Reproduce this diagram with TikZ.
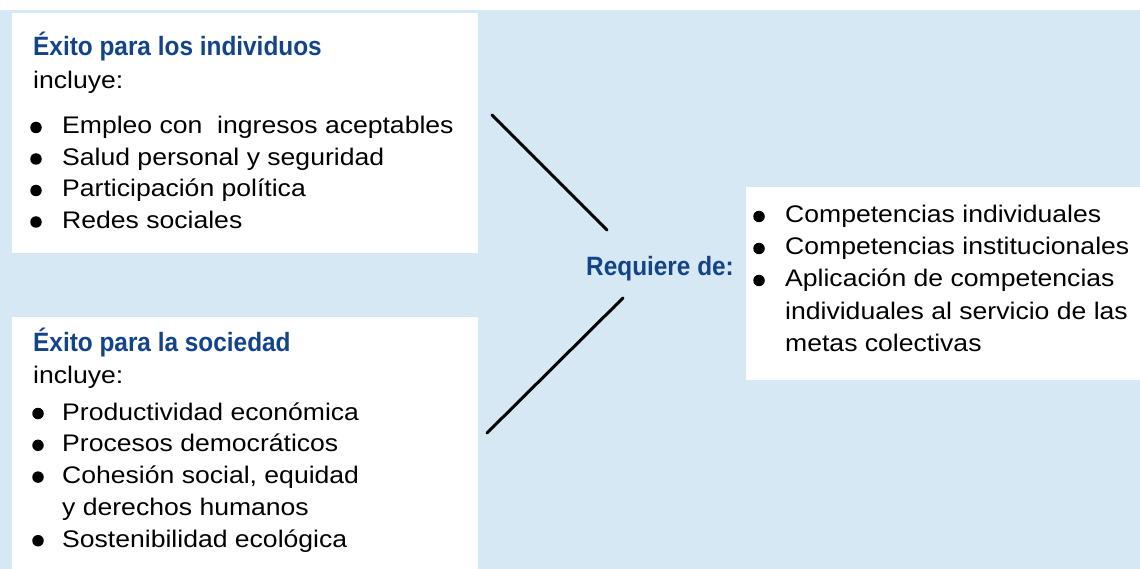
\documentclass[tikz,border=0pt]{standalone}
\usepackage{fontspec}
\setmainfont[FakeStretch=1.107]{Liberation Sans}
\newfontfamily\headfont[FakeStretch=0.92]{Liberation Sans}
\usetikzlibrary{positioning}
\definecolor{bgblue}{RGB}{213,232,243}
\definecolor{headblue}{RGB}{20,68,136}

\begin{document}
\begin{tikzpicture}[x=1pt, y=-1pt,
    % Styles
    panel/.style={fill=white, inner sep=0pt, anchor=north west},
    headtext/.style={font=\headfont\bfseries\fontsize{26.5}{30}\selectfont, text=headblue, inner sep=0pt, anchor=base west},
    bodytext/.style={font=\fontsize{24}{28}\selectfont, inner sep=0pt, anchor=base west},
    bulletdot/.style={circle, fill=black, inner sep=0pt, minimum size=11.5pt},
    joinline/.style={line width=3pt, line cap=round},
]
    \useasboundingbox (0,0) rectangle (1140,569);

    % Background
    \fill[white] (0,0) rectangle (1140,10);
    \fill[bgblue] (0,10) rectangle (1140,569);

    % Panels
    \node[panel, minimum width=466pt, minimum height=240pt] (indbox) at (12,13) {};
    \node[panel, minimum width=466pt, minimum height=252pt] (socbox) at (12,317) {};
    \node[panel, minimum width=394pt, minimum height=193pt] (reqbox) at (746,187) {};

    % Top-left panel: individuals
    \node[headtext] (indtitle) at (33,56) {Éxito para los individuos};
    \node[bodytext] (indincl) at (33,89) {incluye:};
    \foreach \txt [count=\i, evaluate=\i as \y using 102.5+31.5*\i] in
        {Empleo con\ \ ingresos aceptables, Salud personal y seguridad,
         Participación política, Redes sociales} {
        \node[bodytext] (ind\i) at (62,\y) {\txt};
        \node[bulletdot] (indb\i) at (36,\y-6.5) {};
    }

    % Bottom-left panel: society
    \node[headtext] (soctitle) at (33,351) {Éxito para la sociedad};
    \node[bodytext] (socincl) at (33,383) {incluye:};
    \foreach \txt [count=\i, evaluate=\i as \y using 388.2+31.8*\i] in
        {Productividad económica, Procesos democráticos,
         {Cohesión social, equidad}, y derechos humanos,
         Sostenibilidad ecológica} {
        \node[bodytext] (soc\i) at (62,\y) {\txt};
    }
    \foreach \i in {1,2,3,5}
        \node[bulletdot] (socb\i) at (38,388.2+31.8*\i-6.5) {};

    % Right panel: requirements
    \node[headtext] (reqlabel) at (586,276) {Requiere de:};
    \foreach \txt [count=\i, evaluate=\i as \y using 191+32*\i] in
        {Competencias individuales, Competencias institucionales,
         Aplicación de competencias, individuales al servicio de las,
         metas colectivas} {
        \node[bodytext] (req\i) at (785,\y) {\txt};
    }
    \foreach \i in {1,2,3}
        \node[bulletdot] (reqb\i) at (759,191+32*\i-6.5) {};

    % Connecting strokes
    \coordinate (indstart) at (492,115);
    \coordinate (indend) at (607,230);
    \coordinate (socstart) at (487,433);
    \coordinate (socend) at (623,298);
    \draw[joinline] (indstart) -- (indend);
    \draw[joinline] (socstart) -- (socend);

\end{tikzpicture}
\end{document}
